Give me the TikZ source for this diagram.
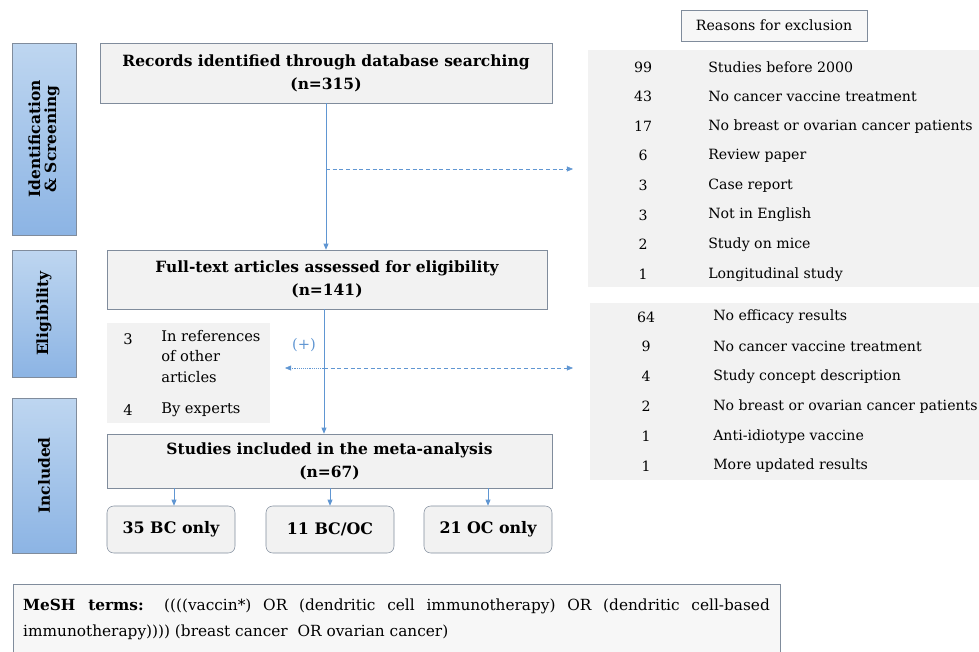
\documentclass[tikz,border=0pt]{standalone}
\usepackage{fontspec}
\setmainfont{DejaVu Serif}
\usepackage{tikz}
\usetikzlibrary{arrows.meta,positioning}
\hyphenpenalty=10000
\exhyphenpenalty=10000

\definecolor{flowblue}{RGB}{96,150,210}
\definecolor{boxedge}{RGB}{128,140,156}
\definecolor{boxfill}{RGB}{242,242,242}
\definecolor{phasetop}{RGB}{190,214,240}
\definecolor{phasebot}{RGB}{140,180,228}

\begin{document}
\begin{tikzpicture}[
    x=0.75pt, y=-0.75pt,
    stagebox/.style={draw=boxedge, fill=boxfill, align=center, font=\fontsize{11.6}{17}\selectfont\bfseries, inner sep=2pt},
    subbox/.style={draw=boxedge, fill=boxfill, rounded corners=5pt, font=\fontsize{11.9}{13}\selectfont\bfseries,
        minimum width=96pt, minimum height=35.25pt},
    phasebox/.style={draw=boxedge, top color=phasetop, bottom color=phasebot, minimum width=48pt,
        font=\fontsize{11.6}{15}\selectfont\bfseries},
    panel/.style={fill=boxfill, inner sep=0pt},
    num/.style={font=\fontsize{10.6}{12}\selectfont, inner sep=0pt},
    reason/.style={font=\fontsize{10.6}{12}\selectfont, inner sep=0pt, anchor=west},
    flow/.style={-{Triangle[length=1.6mm, width=1.3mm]}, flowblue, semithick},
    excl/.style={-{Triangle[length=1.6mm, width=1.3mm]}, flowblue, densely dashed},
    addl/.style={-{Triangle[length=1.6mm, width=1.3mm]}, flowblue, densely dotted}
]
\useasboundingbox (0,0) rectangle (979,651);

% phases
\node[phasebox, minimum height=144pt] (ident) at (44,139)
    {\rotatebox{90}{\shortstack{Identification\\\& Screening}}};
\node[phasebox, minimum height=95.25pt] (elig) at (44,313.5) {\rotatebox{90}{Eligibility}};
\node[phasebox, minimum height=116.25pt] (incl) at (44,475.5) {\rotatebox{90}{Included}};

% main flow
\node[stagebox, minimum width=339pt, minimum height=45pt] (records) at (326,73)
    {Records identified through database searching\\(n=315)};
\node[stagebox, minimum width=330pt, minimum height=44.25pt] (fulltext) at (327,279.5)
    {Full-text articles assessed for eligibility\\(n=141)};
\node[stagebox, minimum width=333.75pt, minimum height=40.5pt] (studies) at (329.5,461)
    {Studies included in the meta-analysis\\(n=67)};
\node[subbox] (bc) at (171,529.5) {35 BC only};
\node[subbox] (bcoc) at (330,529.5) {11 BC/OC};
\node[subbox] (oc) at (488,529.5) {21 OC only};

% reasons for exclusion
\node[draw=boxedge, fill=boxfill!60, minimum width=139.5pt, minimum height=23.25pt,
    font=\fontsize{10.6}{12}\selectfont] (reasons) at (774,25.5) {Reasons for exclusion};
\node[panel, minimum width=293.25pt, minimum height=177.75pt] (screenpanel) at (783.5,168.5) {};
\node[panel, minimum width=291.75pt, minimum height=132.75pt] (eligpanel) at (784.5,391.5) {};
\foreach \n/\t [count=\i] in {99/Studies before 2000, 43/No cancer vaccine treatment,
    17/No breast or ovarian cancer patients, 6/Review paper, 3/Case report,
    3/Not in English, 2/Study on mice, 1/Longitudinal study}
{
  \node[num] (sn\i) at (643,{67+29.6*(\i-1)}) {\n};
  \node[reason] (st\i) at (708,{67+29.6*(\i-1)}) {\t};
}
\foreach \n/\t [count=\i] in {64/No efficacy results, 9/No cancer vaccine treatment,
    4/Study concept description, 2/No breast or ovarian cancer patients,
    1/Anti-idiotype vaccine, 1/More updated results}
{
  \node[num] (en\i) at (646,{317+29.8*(\i-1)}) {\n};
  \node[reason] (et\i) at (713,{317+29.8*(\i-1)}) {\t};
}

% additional records
\node[panel, minimum width=122.25pt, minimum height=75pt] (addpanel) at (188.5,373) {};
\node[num, font=\fontsize{11}{12}\selectfont] (an1) at (128,339) {3};
\node[reason, anchor=north west, align=left, font=\fontsize{11}{15.4}\selectfont] (at1) at (161,330)
    {In references\\of other\\articles};
\node[num, font=\fontsize{11}{12}\selectfont] (an2) at (128,410) {4};
\node[reason, font=\fontsize{11}{12}\selectfont] (at2) at (161,410) {By experts};
\node[text=flowblue, font=\fontsize{11}{12}\selectfont] (plus) at (304,345) {(+)};

% connectors
\coordinate (split1) at (326,169);
\coordinate (out1) at (573,169);
\coordinate (split2) at (324,368);
\coordinate (out2) at (573,368);
\coordinate (in2) at (285,368);
\draw[flow] (records.south -| split1) -- (fulltext.north -| split1);
\draw[excl] (split1) -- (out1);
\draw[flow] (fulltext.south -| split2) -- (studies.north -| split2);
\draw[excl] (split2) -- (out2);
\draw[addl] (split2) -- (in2);
\draw[flow] (studies.south -| bc.north) ++(3,0) coordinate (bcsrc) -- (bcsrc |- bc.north);
\draw[flow] (studies.south -| bcoc.north) -- (bcoc.north);
\draw[flow] (studies.south -| oc.north) -- (oc.north);

% search terms
\node[draw=boxedge, fill=boxfill!60, minimum width=575pt, minimum height=53.25pt, text width=560pt,
    align=justify, font=\fontsize{11.5}{19}\selectfont] (mesh) at (396.5,619.5)
    {\textbf{MeSH terms:} ((((vaccin*) OR (dendritic cell immunotherapy) OR (dendritic cell-based immunotherapy)))) (breast cancer\ \ OR ovarian cancer)};
\end{tikzpicture}
\end{document}
